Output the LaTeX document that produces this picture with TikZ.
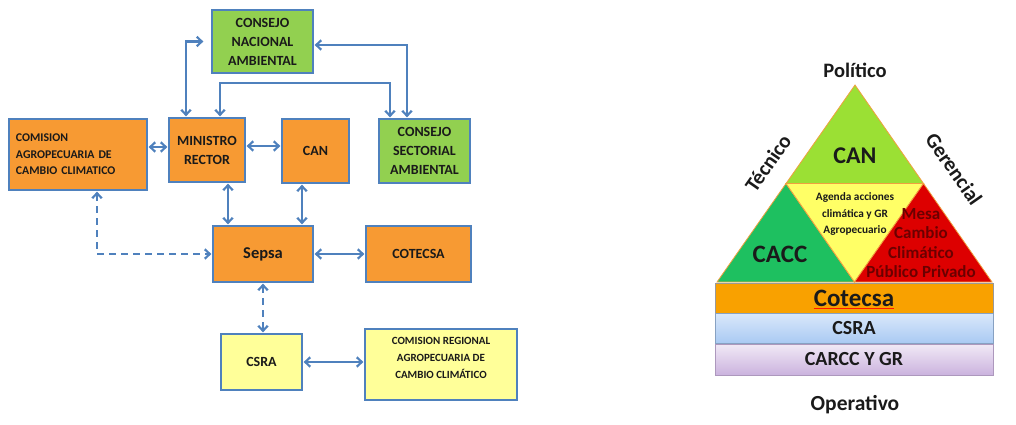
\documentclass[tikz,border=0pt]{standalone}
\usepackage{fontspec}
\setmainfont{Carlito}
\usetikzlibrary{arrows.meta,calc}
\definecolor{lnk}{HTML}{4F81BD}
\definecolor{orng}{HTML}{F79A33}
\definecolor{grn}{HTML}{92D050}
\definecolor{ylw}{HTML}{FFFF99}
\definecolor{tri1}{HTML}{9BE034}
\definecolor{tri2}{HTML}{1EC060}
\definecolor{tri3}{HTML}{FFFF66}
\definecolor{tri4}{HTML}{DD0000}
\definecolor{mesa}{HTML}{6B0000}
\definecolor{edge}{HTML}{F0A040}
\definecolor{cot}{HTML}{F9A100}
\definecolor{txt}{HTML}{1A1A1A}
\definecolor{bluetop}{HTML}{DAE8FA}
\definecolor{bluebot}{HTML}{A9C9F3}
\definecolor{viotop}{HTML}{F1E9F6}
\definecolor{viobot}{HTML}{CBB3DE}
\begin{document}
\begin{tikzpicture}[x=1pt,y=-1pt,
  box/.style={draw=lnk, line width=1.3pt, fill=#1, inner sep=2pt, align=center,
    font=\bfseries\fontsize{14}{19}\selectfont, text=txt},
  link/.style={draw=lnk, line width=2.2pt,
    {Straight Barb[length=5pt,width=9.5pt]}-{Straight Barb[length=5pt,width=9.5pt]},
    shorten >=1pt, shorten <=1pt},
  dlink/.style={link, dash pattern=on 7pt off 5pt},
  lbl/.style={font=\bfseries\fontsize{#1}{#1}\selectfont, text=txt, inner sep=0pt}]
\useasboundingbox (0,0) rectangle (1016,425);
% ---------------- left diagram ----------------
\node[box=grn, minimum width=101pt, minimum height=63pt] (cna) at (262.5,41.5) {CONSEJO\\NACIONAL\\AMBIENTAL};
\node[box=orng, minimum width=138pt, minimum height=71pt, text width=124pt, inner sep=7pt, align=left,
  font=\bfseries\fontsize{11.8}{16.5}\selectfont] (cacc) at (78,154.5) {COMISION\\AGROPECUARIA DE\\CAMBIO CLIMATICO};
\node[box=orng, minimum width=76pt, minimum height=64pt] (min) at (207,150) {MINISTRO\\RECTOR};
\node[box=orng, minimum width=67pt, minimum height=64pt] (can) at (315.5,151) {CAN};
\node[box=grn, minimum width=91pt, minimum height=64pt] (csa) at (424.5,151) {CONSEJO\\SECTORIAL\\AMBIENTAL};
\node[box=orng, minimum width=100pt, minimum height=56pt, font=\bfseries\fontsize{16.5}{19}\selectfont] (sepsa) at (263,254) {Sepsa};
\node[box=orng, minimum width=105pt, minimum height=56pt] (cotecsa) at (418.5,254) {COTECSA};
\node[box=ylw, minimum width=81pt, minimum height=56pt] (csra) at (261.5,362) {CSRA};
\node[box=ylw, minimum width=152pt, minimum height=71pt] (crac) at (441,364.5) {};
\node[lbl=11, align=center, font=\bfseries\fontsize{11}{16.7}\selectfont] (cractext) at (441,358) {COMISION REGIONAL\\AGROPECUARIA DE\\CAMBIO CLIMÁTICO};

\draw[link] ([xshift=-21pt]min.north) |- ([xshift=-7pt]cna.west);
\draw[link] ([yshift=-3.5pt]cna.east) -| ([xshift=-17.5pt]csa.north);
\draw[link] ([xshift=13pt]min.north) -- ++(0,-34) -| ([xshift=-34.5pt]csa.north);
\draw[link] ([yshift=7.5pt]cacc.east) -- ([yshift=3pt]min.west);
\draw[link] ([yshift=4pt]min.east) -- ([yshift=5pt]can.west);
\draw[link] ([xshift=21pt]min.south) -- ([xshift=21pt]min.south |- sepsa.north);
\draw[link] ([xshift=-13.5pt]can.south) -- ([xshift=-13.5pt]can.south |- sepsa.north);
\draw[dlink] ([xshift=19pt]cacc.south) |- (sepsa.west);
\draw[link] (sepsa.east) -- (cotecsa.west);
\draw[dlink] (sepsa.south) -- (sepsa.south |- csra.north);
\draw[link] (csra.east) -- (csra.east -| crac.west);

% ---------------- right diagram ----------------
\coordinate (A) at (855,85);
\coordinate (L) at (717,282);
\coordinate (R) at (992,282);
\coordinate (ML) at (786,183.5);
\coordinate (MR) at (923.5,183.5);
\coordinate (MB) at (854.5,282);
\draw[edge, line width=0.8pt, fill=tri1] (A) -- (ML) -- (MR) -- cycle;
\draw[edge, line width=0.8pt, fill=tri2] (ML) -- (L) -- (MB) -- cycle;
\draw[edge, line width=0.8pt, fill=tri3] (ML) -- (MR) -- (MB) -- cycle;
\draw[edge, line width=0.8pt, fill=tri4] (MR) -- (R) -- (MB) -- cycle;

\draw[draw=black!40, line width=0.6pt, fill=cot] (715,283) rectangle (993,313);
\shade[top color=bluetop, bottom color=bluebot] (715,313) rectangle (993,343.5);
\draw[draw=bluebot!80!black, line width=0.6pt] (715,313) rectangle (993,343.5);
\shade[top color=viotop, bottom color=viobot] (715,344) rectangle (993,375);
\draw[draw=viobot!85!black, line width=0.6pt] (715,344) rectangle (993,375);

\node[lbl=20.5] (pol) at (855,70) {Político};
\node[lbl=24] (tcan) at (855,156) {CAN};
\node[lbl=25] (tcacc) at (780,254) {CACC};
\node[lbl=11, align=center, font=\bfseries\fontsize{11.3}{16.7}\selectfont] (agenda) at (855,214) {Agenda acciones\\climática y GR\\Agropecuario};
\node[lbl=17, align=center, text=mesa, font=\bfseries\fontsize{17}{19.3}\selectfont] (mesa) at (921,243) {Mesa\\Cambio\\Climático\\Público Privado};
\node[lbl=21, rotate=55] (tec) at (768,163) {Técnico};
\node[lbl=21, rotate=-55] (ger) at (954,169) {Gerencial};
\node[lbl=25] (tcot) at (854,298) {Cotecsa};
\draw[draw=red!80!orange, line width=0.8pt] ([yshift=-2pt]tcot.south west) -- ([yshift=-2pt]tcot.south east);
\node[lbl=20] (tcsra) at (854,328.5) {CSRA};
\node[lbl=20] (tcarcc) at (854,359.5) {CARCC Y GR};
\node[lbl=21.5] (op) at (855,405) {Operativo};
\end{tikzpicture}
\end{document}
